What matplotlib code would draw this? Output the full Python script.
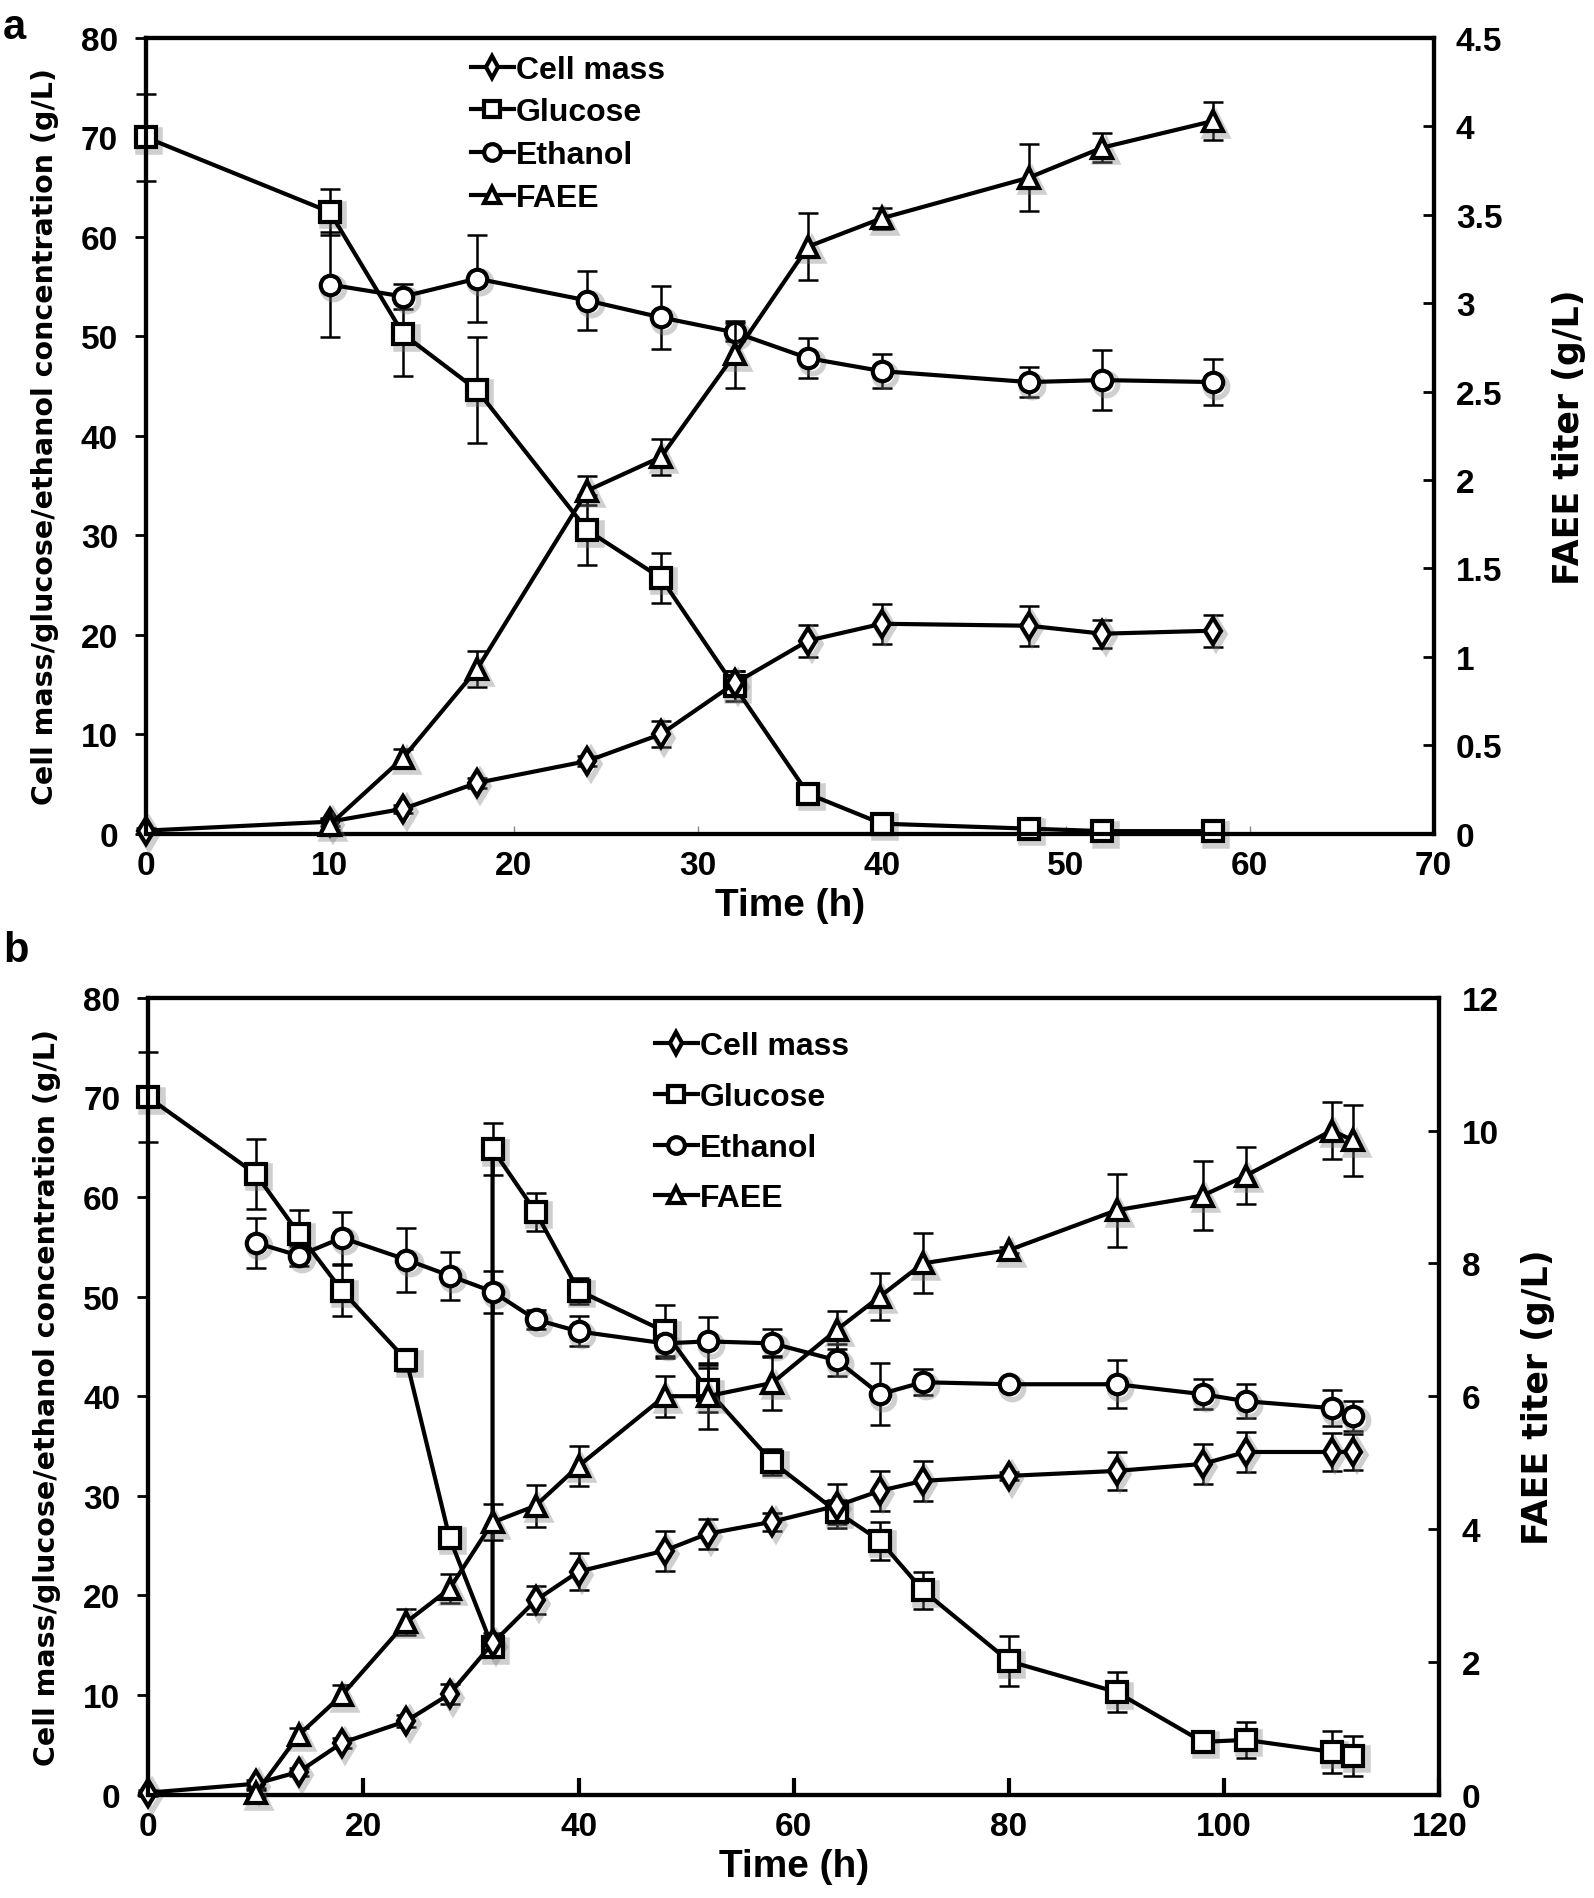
import matplotlib
matplotlib.use("Agg")
import matplotlib.pyplot as plt
from matplotlib.lines import Line2D
from matplotlib.transforms import offset_copy

# ---------------- Panel a data ----------------
t_cell_a = [0, 10, 14, 18, 24, 28, 32, 36, 40, 48, 52, 58]
cell_a = [0.3, 1.2, 2.5, 5.1, 7.3, 10.0, 15.1, 19.4, 21.1, 20.9, 20.1, 20.4]
cell_a_err = [0.3, 0.4, 0.4, 0.5, 0.5, 1.3, 1.2, 1.6, 2.0, 2.0, 1.4, 1.6]

t_glu_a = [0, 10, 14, 18, 24, 28, 32, 36, 40, 48, 52, 58]
glu_a = [70.0, 62.5, 50.2, 44.6, 30.5, 25.7, 14.8, 4.0, 1.0, 0.5, 0.25, 0.25]
glu_a_err = [4.4, 2.3, 4.2, 5.3, 3.5, 2.5, 1.5, 0.3, 0.3, 0.2, 0.2, 0.2]

t_eth_a = [10, 14, 18, 24, 28, 32, 36, 40, 48, 52, 58]
eth_a = [55.2, 54.0, 55.8, 53.6, 51.9, 50.4, 47.8, 46.5, 45.4, 45.6, 45.4]
eth_a_err = [5.3, 1.3, 4.4, 3.0, 3.2, 0.9, 2.0, 1.7, 1.5, 3.0, 2.3]

t_faee_a = [10, 14, 18, 24, 28, 32, 36, 40, 48, 52, 58]
faee_a = [0.05, 0.43, 0.93, 1.94, 2.13, 2.71, 3.32, 3.48, 3.71, 3.88, 4.03]
faee_a_err = [0.03, 0.05, 0.10, 0.08, 0.10, 0.19, 0.19, 0.06, 0.19, 0.08, 0.11]

# ---------------- Panel b data ----------------
t_cell_b = [0, 10, 14, 18, 24, 28, 32, 36, 40, 48, 52, 58, 64, 68, 72, 80, 90, 98, 102, 110, 112]
cell_b = [0.2, 1.1, 2.3, 5.2, 7.4, 10.1, 15.2, 19.5, 22.4, 24.5, 26.2, 27.4, 29.0, 30.5, 31.5,
          32.0, 32.5, 33.2, 34.4, 34.4, 34.4]
cell_b_err = [0.3, 0.4, 0.4, 0.5, 0.6, 1.0, 1.0, 1.4, 1.9, 2.0, 1.5, 0.9, 2.2, 2.0, 2.0,
              0.4, 1.9, 2.0, 2.0, 1.9, 1.8]

t_glu_b = [0, 10, 14, 18, 24, 28, 32, 32, 36, 40, 48, 52, 58, 64, 68, 72, 80, 90, 98, 102, 110, 112]
glu_b = [70.0, 62.3, 56.3, 50.6, 43.6, 25.8, 14.8, 64.8, 58.5, 50.6, 46.5, 40.6, 33.4, 28.4,
         25.5, 20.5, 13.4, 10.3, 5.3, 5.5, 4.3, 3.9]
glu_b_err = [4.5, 3.5, 2.4, 2.6, 1.1, 0.4, 0.5, 2.6, 1.9, 1.3, 2.7, 2.2, 1.3, 1.2, 1.9, 1.9,
             2.5, 2.0, 0.4, 1.8, 2.1, 2.0]

t_eth_b = [10, 14, 18, 24, 28, 32, 36, 40, 48, 52, 58, 64, 68, 72, 80, 90, 98, 102, 110, 112]
eth_b = [55.4, 54.1, 55.9, 53.7, 52.1, 50.5, 47.7, 46.5, 45.3, 45.5, 45.3, 43.6, 40.2, 41.4,
         41.2, 41.2, 40.2, 39.5, 38.8, 38.0]
eth_b_err = [2.5, 1.0, 2.6, 3.2, 2.4, 2.1, 1.0, 1.5, 1.3, 2.4, 1.4, 1.6, 3.1, 1.3, 0.3, 2.4,
             1.5, 1.7, 1.8, 1.5]

t_faee_b = [10, 14, 18, 24, 28, 32, 36, 40, 48, 52, 58, 64, 68, 72, 80, 90, 98, 102, 110, 112]
faee_b = [0.02, 0.9, 1.5, 2.6, 3.1, 4.1, 4.35, 4.95, 6.0, 6.0, 6.2, 7.0, 7.5, 8.0, 8.2, 8.8,
          9.02, 9.32, 10.0, 9.85]
faee_b_err = [0.05, 0.1, 0.15, 0.2, 0.22, 0.27, 0.32, 0.3, 0.31, 0.5, 0.41, 0.29, 0.36, 0.45,
              0.05, 0.55, 0.52, 0.43, 0.43, 0.53]

series_labels = ["Cell mass", "Glucose", "Ethanol", "FAEE"]
left_ticks = [0, 10, 20, 30, 40, 50, 60, 70, 80]
xticks_a = [0, 10, 20, 30, 40, 50, 60, 70]
xticks_b = [0, 20, 40, 60, 80, 100, 120]
rticks_a = [0, 0.5, 1, 1.5, 2, 2.5, 3, 3.5, 4, 4.5]
rtick_labels_a = ["0", "0.5", "1", "1.5", "2", "2.5", "3", "3.5", "4", "4.5"]
rticks_b = [0, 2, 4, 6, 8, 10, 12]

NARROW = ["Liberation Sans Narrow", "Liberation Sans", "DejaVu Sans"]
WIDE = ["DejaVu Sans"]

markers = {"Cell mass": ("d", 13), "Glucose": ("s", 14), "Ethanol": ("o", 14), "FAEE": ("^", 14)}

fig = plt.figure(figsize=(15.94, 18.99), dpi=100)


def draw_series(ax, t, y, err, name, z=3):
    m, ms = markers[name]
    eb = ax.errorbar(t, y, yerr=err, fmt="none", ecolor="black", elinewidth=1.8,
                     capsize=7, capthick=1.8, zorder=z)
    for art in eb.get_children():
        art.set_clip_on(False)
    # soft drop shadow under the markers
    shadow_tr = offset_copy(ax.transData, fig=fig, x=2.5, y=-2.5, units="points")
    ax.plot(t, y, linestyle="none", marker=m, ms=ms + 2, mfc="none", mec="#777777",
            mew=4, alpha=0.35, transform=shadow_tr, zorder=z + 0.5, clip_on=False)
    ax.plot(t, y, color="black", lw=3, marker=m, ms=ms, mfc="white", mec="black",
            mew=3, zorder=z + 1, clip_on=False)


def style_panel(ax, ax2, xticks, xlim, rticks, rlabels, rlim, thin_bottom, rpad):
    ax.set_xlim(*xlim)
    ax.set_ylim(0, 80)
    ax2.set_ylim(*rlim)
    ax.set_xticks(xticks)
    ax.set_yticks(left_ticks)
    ax2.set_yticks(rticks)
    ax2.set_yticklabels(rlabels)
    for a in (ax, ax2):
        for s in a.spines.values():
            s.set_linewidth(3)
            s.set_color("black")
    if thin_bottom:
        ax.spines["bottom"].set_color("#555555")
        ax.spines["bottom"].set_linewidth(3)
        ax.tick_params(axis="x", direction="in", length=6, width=1, color="#888888")
    else:
        ax.tick_params(axis="x", direction="in", length=12, width=3)
    ax.tick_params(axis="y", direction="out", length=8, width=2)
    ax2.tick_params(axis="y", direction="in", length=8, width=2)
    ax.tick_params(axis="both", pad=12)
    ax2.tick_params(axis="y", pad=16)
    for lab in ax.get_xticklabels() + ax.get_yticklabels() + ax2.get_yticklabels():
        lab.set_fontfamily(NARROW)
        lab.set_fontweight("bold")
        lab.set_fontsize(24)
    ax.set_xlabel("Time (h)", fontfamily=NARROW, fontweight="bold", fontsize=28, labelpad=4)
    ax.set_ylabel("Cell mass/glucose/ethanol concentration (g/L)", fontfamily=WIDE,
                  fontweight="bold", fontsize=20.5, labelpad=16)
    ax2.set_ylabel("FAEE titer (g/L)", fontfamily=WIDE, fontweight="bold", fontsize=25,
                   labelpad=rpad)


def add_legend(ax2, anchor, spacing):
    handles = []
    for name in series_labels:
        m, ms = markers[name]
        handles.append(Line2D([], [], color="black", lw=3, marker=m, ms=ms - 2, mfc="white",
                              mec="black", mew=3))
    leg = ax2.legend(handles, series_labels, loc="upper left", bbox_to_anchor=anchor,
                     frameon=False, handlelength=1.35, handletextpad=0.05, labelspacing=spacing,
                     borderaxespad=0.3,
                     prop={"family": NARROW, "weight": "bold", "size": 23})
    leg.set_zorder(20)


# ---------------- Panel a ----------------
ax_a = fig.add_axes([0.0915, 0.5605, 0.8079, 0.419])
ax_a2 = ax_a.twinx()
draw_series(ax_a, t_glu_a, glu_a, glu_a_err, "Glucose")
draw_series(ax_a, t_eth_a, eth_a, eth_a_err, "Ethanol")
draw_series(ax_a, t_cell_a, cell_a, cell_a_err, "Cell mass")
draw_series(ax_a2, t_faee_a, faee_a, faee_a_err, "FAEE")
style_panel(ax_a, ax_a2, xticks_a, (0, 70), rticks_a, rtick_labels_a, (0, 4.5), True, 36)
add_legend(ax_a2, (0.235, 1.007), 0.4)

# ---------------- Panel b ----------------
ax_b = fig.add_axes([0.093, 0.0544, 0.810, 0.4197])
ax_b2 = ax_b.twinx()
draw_series(ax_b, t_glu_b, glu_b, glu_b_err, "Glucose")
draw_series(ax_b, t_eth_b, eth_b, eth_b_err, "Ethanol")
draw_series(ax_b, t_cell_b, cell_b, cell_b_err, "Cell mass")
draw_series(ax_b2, t_faee_b, faee_b, faee_b_err, "FAEE")
style_panel(ax_b, ax_b2, xticks_b, (0, 120), rticks_b, [str(v) for v in rticks_b], (0, 12), False, 16)
add_legend(ax_b2, (0.375, 0.986), 0.65)

fig.text(0.002, 0.985, "a", fontsize=30, fontweight="bold", fontfamily=["Liberation Sans", "DejaVu Sans"],
         va="center", ha="left")
fig.text(0.002, 0.499, "b", fontsize=30, fontweight="bold", fontfamily=["Liberation Sans", "DejaVu Sans"],
         va="center", ha="left")

fig.savefig("out.png", dpi=100)
